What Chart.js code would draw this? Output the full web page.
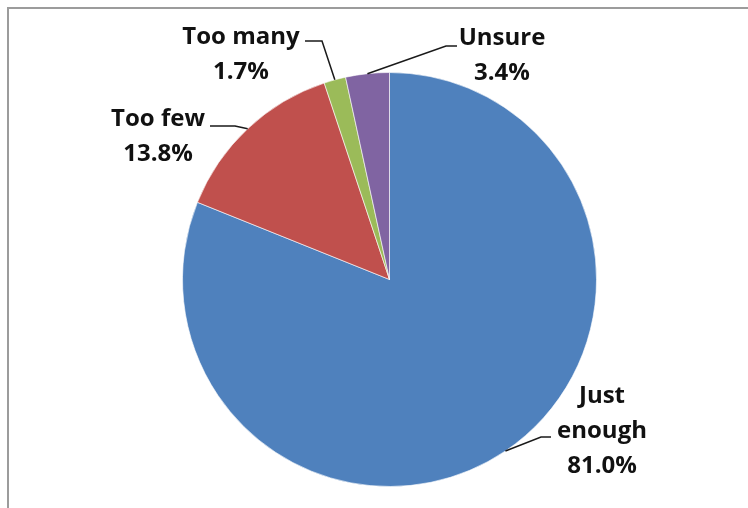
<!DOCTYPE html>
<html>
<head>
<meta charset="utf-8">
<script src="https://cdn.jsdelivr.net/npm/chart.js@4.4.1/dist/chart.umd.min.js"></script>
<style>
  html, body { margin: 0; padding: 0; background: #fff; }
  #wrap { width: 748px; height: 508px; position: relative; }
</style>
</head>
<body>
<div id="wrap"><canvas id="myChart" width="748" height="508"></canvas></div>
<script>
// data
var categories = ["Just enough", "Too few", "Too many", "Unsure"];
var values = [81.0, 13.8, 1.7, 3.4];
var sliceColors = ["#4F81BD", "#C0504D", "#9BBB59", "#8064A2"];

// where each label sits (text lines + baselines) and where its leader line starts
var labelLayout = [
  { lines: ["Just", "enough"], x: 602, y: 403, lineStart: [551, 437], elbow: [541, 437] },
  { lines: ["Too few"], x: 158, y: 126, lineStart: [210, 126], elbow: [235, 126] },
  { lines: ["Too many"], x: 241, y: 44, lineStart: [305, 41], elbow: [322, 41] },
  { lines: ["Unsure"], x: 502, y: 45, lineStart: [457, 46], elbow: [446, 46] }
];
var lineGap = 35;

var framePlugin = {
  id: "frame",
  beforeDraw: function(chart) {
    var ctx = chart.ctx;
    ctx.save();
    ctx.fillStyle = "#fff";
    ctx.fillRect(0, 0, chart.width, chart.height);
    ctx.strokeStyle = "#9c9c9c";
    ctx.lineWidth = 2;
    ctx.beginPath();
    ctx.moveTo(8, chart.height);
    ctx.lineTo(8, 8);
    ctx.lineTo(chart.width, 8);
    ctx.stroke();
    ctx.restore();
  }
};

var labelPlugin = {
  id: "sliceLabels",
  afterDraw: function(chart) {
    var ctx = chart.ctx;
    var arcs = chart.getDatasetMeta(0).data;
    ctx.save();
    arcs.forEach(function(arc, i) {
      var p = arc.getProps(["x", "y", "startAngle", "endAngle", "outerRadius"], true);
      var mid = (p.startAngle + p.endAngle) / 2;
      var ax = p.x + Math.cos(mid) * p.outerRadius;
      var ay = p.y + Math.sin(mid) * p.outerRadius;
      var lay = labelLayout[i];

      // leader line
      ctx.strokeStyle = "#1a1a1a";
      ctx.lineWidth = 1.5;
      ctx.beginPath();
      ctx.moveTo(lay.lineStart[0], lay.lineStart[1]);
      ctx.lineTo(lay.elbow[0], lay.elbow[1]);
      ctx.lineTo(ax, ay);
      ctx.stroke();

      // text
      ctx.fillStyle = "#111";
      ctx.font = "bold 24px 'Open Sans'";
      ctx.textAlign = "center";
      ctx.textBaseline = "alphabetic";
      var lines = lay.lines.concat([values[i].toFixed(1) + "%"]);
      lines.forEach(function(t, k) {
        ctx.fillText(t, lay.x, lay.y + k * lineGap);
      });
    });
    ctx.restore();
  }
};

var ctx = document.getElementById("myChart").getContext("2d");
var chart = new Chart(ctx, {
  type: "pie",
  data: {
    labels: categories,
    datasets: [{
      data: values,
      backgroundColor: sliceColors,
      borderColor: "rgba(255,255,255,0.6)",
      borderWidth: 1,
      hoverOffset: 0,
      offset: 0
    }]
  },
  options: {
    responsive: false,
    animation: false,
    layout: { padding: { left: 182, right: 151, top: 72, bottom: 21 } },
    plugins: {
      legend: { display: false },
      tooltip: { enabled: false }
    }
  },
  plugins: [framePlugin, labelPlugin]
});
</script>
</body>
</html>
